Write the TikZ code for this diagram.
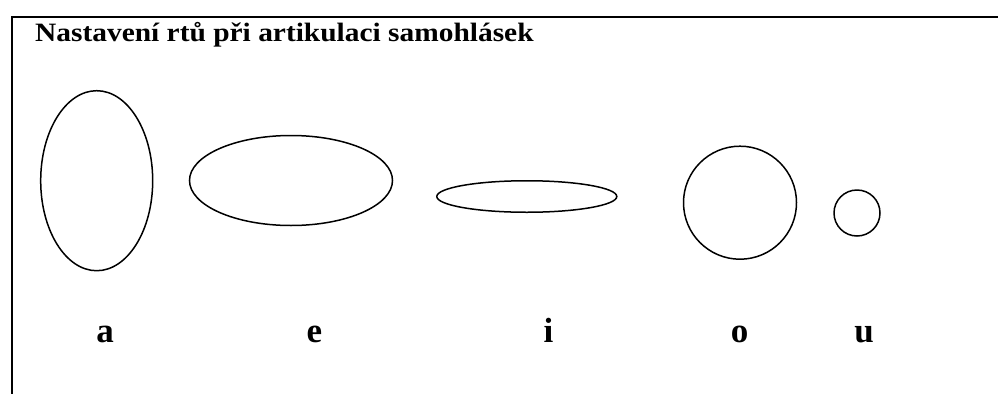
\documentclass[tikz,border=0pt]{standalone}
\usepackage{fontspec}
\setmainfont{Liberation Serif}
\usetikzlibrary{shapes.geometric}
\begin{document}
\begin{tikzpicture}[x=1pt,y=-1pt,
  lip/.style={draw=black,line width=1.5pt,inner sep=0pt,shape=ellipse},
  ring/.style={draw=black,line width=1.5pt,inner sep=0pt,shape=circle},
  vowel/.style={font=\fontsize{35}{40}\selectfont\bfseries,anchor=base,inner sep=0pt},
  frameline/.style={line width=2pt}]
\useasboundingbox (0,0) rectangle (998,394);
\fill[white] (0,0) rectangle (998,394);
\coordinate (tl) at (12,17);
\coordinate (tr) at (998,17);
\coordinate (bl) at (12,394);
\draw[frameline] (tr) -- (tl) -- (bl);
\node[anchor=base west,inner sep=0pt,font=\fontsize{26.5}{30}\selectfont\bfseries] (title) at (35,41) {\scalebox{1.11}[1]{Nastavení rtů při artikulaci samohlásek}};
\node[lip,minimum width=112pt,minimum height=180pt] (ea) at (96.7,180.7) {};
\node[lip,minimum width=203pt,minimum height=90pt] (ee) at (291,180.5) {};
\node[lip,minimum width=180pt,minimum height=31.5pt] (ei) at (526.8,196.5) {};
\node[ring,minimum size=113pt] (eo) at (740,202.7) {};
\node[ring,minimum size=46pt] (eu) at (857,213) {};
\node[vowel] (la) at (105,342) {a};
\node[vowel] (le) at (314.5,342) {e};
\node[vowel] (li) at (548.5,342) {i};
\node[vowel] (lo) at (739.5,342) {o};
\node[vowel] (lu) at (864,342) {u};
\end{tikzpicture}
\end{document}
